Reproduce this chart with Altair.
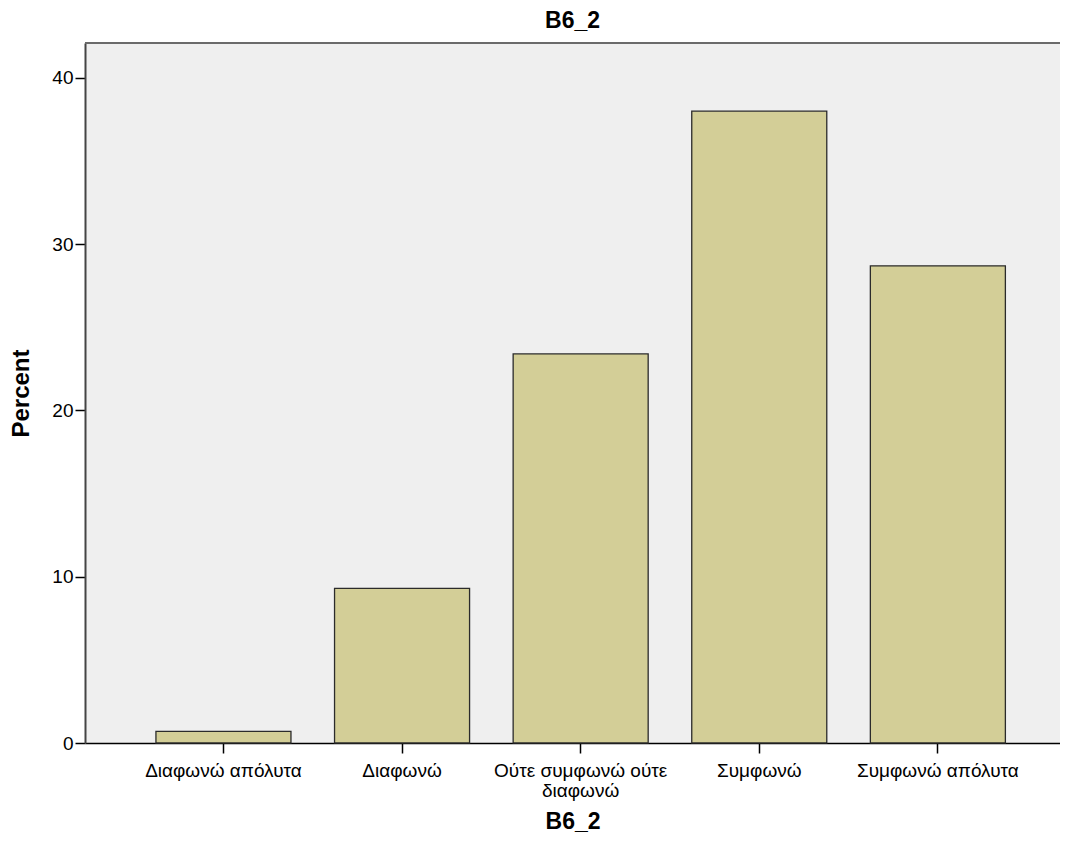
import altair as alt
import pandas as pd

categories = ["Διαφωνώ απόλυτα", "Διαφωνώ", "Ούτε συμφωνώ ούτε διαφωνώ", "Συμφωνώ", "Συμφωνώ απόλυτα"]
percents = [0.7, 9.3, 23.4, 38.0, 28.7]
y_ticks = [0, 10, 20, 30, 40]

df = pd.DataFrame({"B6_2": categories, "Percent": percents})

FONT = "Liberation Sans"
W = 975
H = 700

bars = (
    alt.Chart(df)
    .mark_bar(fill="#D3CE97", stroke="#2b2b2b", strokeWidth=1.3)
    .encode(
        x=alt.X(
            "B6_2:N",
            sort=categories,
            scale=alt.Scale(paddingInner=0.244, paddingOuter=0.3515, align=0.565),
            axis=alt.Axis(
                title="B6_2",
                labelAngle=0,
                labelFont=FONT,
                labelFontSize=19,
                labelColor="#000000",
                labelPadding=8,
                labelLineHeight=20,
                labelExpr="datum.label == 'Ούτε συμφωνώ ούτε διαφωνώ' ? ['Ούτε συμφωνώ ούτε', 'διαφωνώ'] : datum.label",
                tickSize=10,
                tickColor="#000000",
                tickWidth=1.5,
                domainColor="#000000",
                domainWidth=1.5,
                titleFont=FONT,
                titleFontSize=23,
                titleFontWeight="bold",
                titleColor="#000000",
                titlePadding=10,
            ),
        ),
        y=alt.Y(
            "Percent:Q",
            scale=alt.Scale(domain=[0, 42.1], nice=False),
            axis=alt.Axis(
                title="Percent",
                values=y_ticks,
                grid=False,
                labelFont=FONT,
                labelFontSize=19,
                labelColor="#000000",
                labelPadding=2,
                tickSize=10,
                tickColor="#000000",
                tickWidth=1.5,
                domainColor="#444444",
                domainWidth=2,
                titleFont=FONT,
                titleFontSize=24,
                titleFontWeight="bold",
                titleColor="#000000",
                titlePadding=18,
            ),
        ),
    )
)

top_border = (
    alt.Chart(pd.DataFrame({"k": [0]}))
    .mark_rule(color="#6a6a6a", strokeWidth=2)
    .encode(x=alt.value(0), x2=alt.value(W), y=alt.value(0))
)

chart = (
    alt.layer(bars, top_border)
    .properties(
        width=W,
        height=H,
        background="#FFFFFF",
        title=alt.TitleParams(
            text="B6_2",
            font=FONT,
            fontSize=23,
            fontWeight="bold",
            color="#000000",
            anchor="middle",
            frame="group",
            offset=9,
        ),
        autosize=alt.AutoSizeParams(type="none"),
        padding={"left": 77, "top": 35, "right": 0, "bottom": 94},
    )
    .configure_view(fill="#EFEFEF", stroke="transparent")
)

chart.save("out.html", embed_options={"renderer": "svg", "actions": False})
